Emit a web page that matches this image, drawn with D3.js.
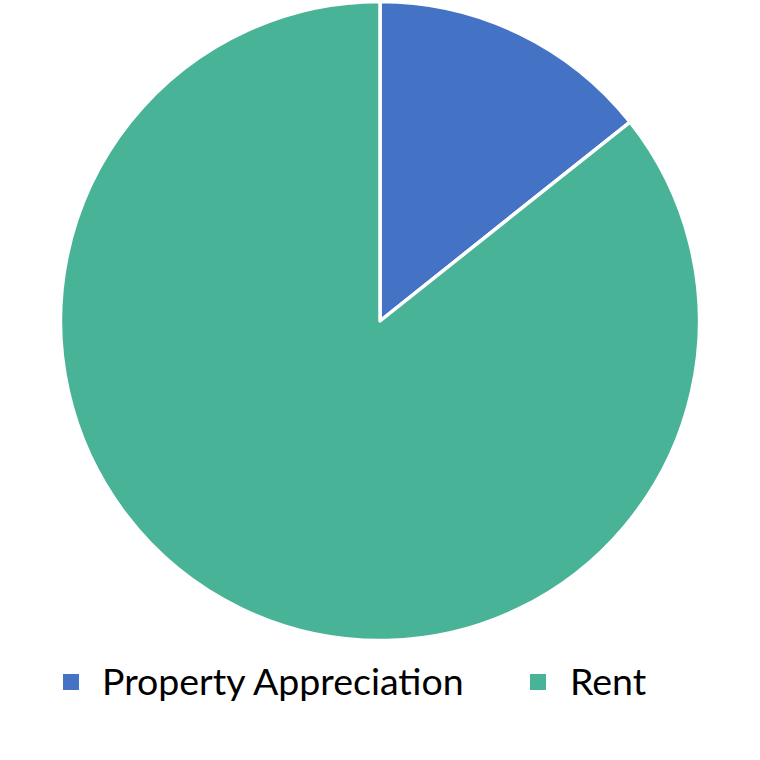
<!DOCTYPE html>
<html lang="en">
<head>
  <meta charset="UTF-8">
  <title>Income split</title>
  <script src="https://d3js.org/d3.v7.min.js"></script>
  <style>
    body { margin: 0; background: #fff; }
    .legend text {
      font-family: Lato, sans-serif;
      font-size: 37.5px;
      fill: #000;
    }
  </style>
</head>
<body>
<svg id="chart" width="760" height="760"></svg>
<script>
  // values
  const categories = ["Property Appreciation", "Rent"];
  const shares = [14.3, 85.7];
  const colours = ["#4472c4", "#48b397"];

  const svg = d3.select("#chart");
  const cx = 380, cy = 321, radius = 319.5;

  const colour = d3.scaleOrdinal().domain(categories).range(colours);

  const pie = d3.pie().sort(null).value(d => d.value);
  const arc = d3.arc().innerRadius(0).outerRadius(radius);

  const data = categories.map((c, i) => ({name: c, value: shares[i]}));

  svg.append("g")
    .attr("transform", "translate(" + cx + "," + cy + ")")
    .selectAll("path")
    .data(pie(data))
    .enter().append("path")
    .attr("d", arc)
    .attr("fill", d => colour(d.data.name))
    .attr("stroke", "#fff")
    .attr("stroke-width", 3.5)
    .attr("stroke-linejoin", "round");

  // legend
  const legendX = [63, 530];
  const legend = svg.append("g").attr("class", "legend");
  const item = legend.selectAll("g")
    .data(categories)
    .enter().append("g")
    .attr("transform", (d, i) => "translate(" + legendX[i] + ",674)");

  item.append("rect")
    .attr("width", 16)
    .attr("height", 16)
    .attr("fill", d => colour(d));

  item.append("text")
    .attr("x", (d, i) => i == 0 ? 39 : 40)
    .attr("y", 21)
    .text(d => d);
</script>
</body>
</html>
